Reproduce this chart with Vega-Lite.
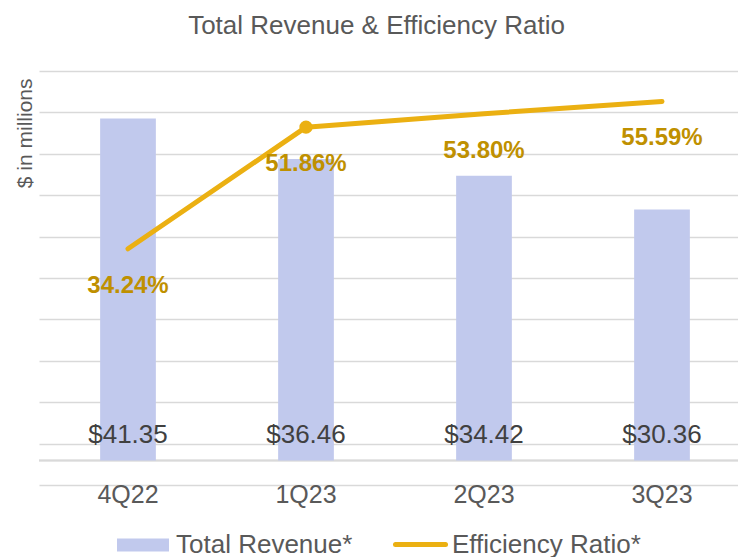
{
  "$schema": "https://vega.github.io/schema/vega-lite/v6.json",
  "width": 699,
  "height": 414,
  "autosize": {"type": "none"},
  "padding": {"left": 39, "top": 71, "right": 0, "bottom": 72},
  "background": "white",
  "config": {"font": "Liberation Sans", "view": {"stroke": null}},
  "title": {"text": "Total Revenue & Efficiency Ratio", "fontSize": 26, "fontWeight": "normal", "color": "#595959", "anchor": "middle", "frame": "group", "baseline": "alphabetic", "offset": 11, "dx": -12},
  "data": {"values": [
    {"q": "4Q22", "rev": 41.35, "eff": 0.3424},
    {"q": "1Q23", "rev": 36.46, "eff": 0.5186},
    {"q": "2Q23", "rev": 34.42, "eff": 0.5380},
    {"q": "3Q23", "rev": 30.36, "eff": 0.5559}
  ]},
  "encoding": {
    "x": {"field": "q", "type": "nominal", "sort": null,
      "scale": {"range": [0, 712], "paddingInner": 0.687, "paddingOuter": 0.3435},
      "axis": {"title": null, "ticks": false, "tickSize": 0, "domain": false, "labelAngle": 0, "labelFontSize": 25, "labelColor": "#595959", "labelBaseline": "alphabetic", "labelPadding": 17}}
  },
  "layer": [
    {
      "encoding": {
        "y": {"field": "rev", "type": "quantitative",
          "scale": {"domain": [-2.96, 47.1], "nice": false, "zero": false},
          "axis": {"title": "$ in millions", "labels": false, "ticks": false, "domain": false, "grid": false, "titleFontSize": 21, "titleColor": "#595959", "titleFontWeight": "normal", "titleAngle": -90, "titleAnchor": "end", "titleAlign": "right", "titleBaseline": "middle", "titleX": -14, "titleY": 7}}
      },
      "layer": [
        {"mark": {"type": "rule", "color": "#D9D9D9", "strokeWidth": 1.5}, "encoding": {"y": {"datum": 0}, "x": null}},
        {"mark": {"type": "bar"},
          "encoding": {
            "y2": {"datum": 0},
            "fill": {"datum": "Total Revenue*", "type": "nominal", "scale": {"range": ["#C1C9ED"]},
              "legend": {"orient": "none", "legendX": 78, "legendY": 448, "title": null, "symbolType": "M-1,-0.25H1V0.25H-1Z", "symbolSize": 2704, "symbolStrokeWidth": 0, "labelFontSize": 26, "labelLimit": 400, "labelColor": "#595959", "labelOffset": 7, "padding": 0}}
          }},
        {"mark": {"type": "text", "dy": -18, "baseline": "alphabetic", "fontSize": 26, "color": "#404040"},
          "encoding": {"y": {"datum": 0}, "text": {"field": "rev", "type": "quantitative", "format": "$.2f"}}}
      ]
    },
    {
      "encoding": {
        "y": {"field": "eff", "type": "quantitative",
          "scale": {"domain": [0, 0.6], "nice": false},
          "axis": {"orient": "left", "title": null, "labels": false, "ticks": false, "domain": false, "grid": true, "gridColor": "#D9D9D9", "gridWidth": 1.5, "values": [0, 0.06, 0.12, 0.18, 0.24, 0.30, 0.36, 0.42, 0.48, 0.54, 0.60]}}
      },
      "layer": [
        {"mark": {"type": "line", "strokeWidth": 5, "strokeCap": "round", "strokeJoin": "round"},
          "encoding": {
            "stroke": {"datum": "Efficiency Ratio*", "type": "nominal", "scale": {"range": ["#EBB012"]},
              "legend": {"orient": "none", "legendX": 354, "legendY": 446, "title": null, "symbolType": "stroke", "symbolSize": 2500, "symbolStrokeWidth": 5, "labelFontSize": 26, "labelLimit": 400, "labelColor": "#595959", "labelOffset": 4, "padding": 0, "encode": {"symbols": {"update": {"strokeCap": {"value": "round"}}}}}}
          }},
        {"transform": [{"filter": "datum.q === '1Q23'"}],
          "mark": {"type": "point", "filled": true, "size": 177, "color": "#EBB012", "opacity": 1}},
        {"mark": {"type": "text", "dy": 44, "baseline": "alphabetic", "fontSize": 24, "fontWeight": "bold", "color": "#BF9000"},
          "encoding": {"text": {"field": "eff", "type": "quantitative", "format": ".2%"}}}
      ]
    }
  ],
  "resolve": {"scale": {"y": "independent"}}
}
